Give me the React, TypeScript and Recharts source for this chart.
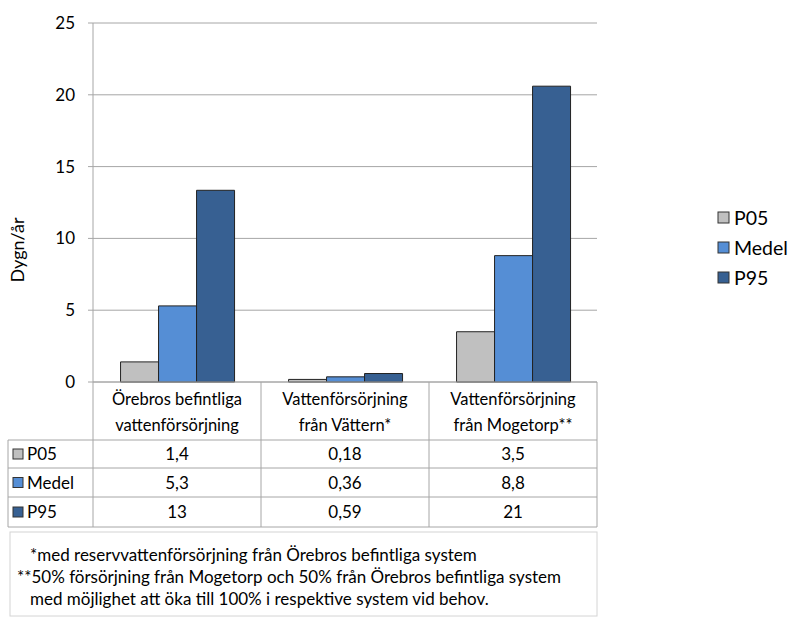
import React from 'react';
import { BarChart, Bar, XAxis, YAxis, CartesianGrid } from 'recharts';

const categories = ['Örebros befintliga vattenförsörjning', 'Vattenförsörjning från Vättern*', 'Vattenförsörjning från Mogetorp**'];
const categoryLines = [
    ['Örebros befintliga', 'vattenförsörjning'],
    ['Vattenförsörjning', 'från Vättern*'],
    ['Vattenförsörjning', 'från Mogetorp**'],
];
const p05 = [1.4, 0.18, 3.5];
const medel = [5.3, 0.36, 8.8];
const p95 = [13.35, 0.59, 20.6];
const p05Labels = ['1,4', '0,18', '3,5'];
const medelLabels = ['5,3', '0,36', '8,8'];
const p95Labels = ['13', '0,59', '21'];
const yTicks = [0, 5, 10, 15, 20, 25];
const notes = [
    '*med reservvattenförsörjning från Örebros befintliga system',
    '**50%  försörjning från Mogetorp och 50% från Örebros befintliga system',
    'med  möjlighet att öka till 100%  i respektive system vid behov.',
];

const series = [
    { key: 'P05', name: 'P05', color: '#c0c0c0', labels: p05Labels },
    { key: 'Medel', name: 'Medel', color: '#558ed5', labels: medelLabels },
    { key: 'P95', name: 'P95', color: '#376092', labels: p95Labels },
];

const data = categories.map((c, i) => ({ name: c, P05: p05[i], Medel: medel[i], P95: p95[i] }));

const FONT = 'Lato, "Open Sans", sans-serif';
const LINE = '#a6a6a6';

// plot area (matches chart margins below)
const PLOT_LEFT = 93;
const PLOT_RIGHT = 597;
const PLOT_BOTTOM = 382;
const COL_W = (PLOT_RIGHT - PLOT_LEFT) / categories.length;

const CategoryTick = (props: any) => {
    const { x, index } = props;
    const lines = categoryLines[index] || [];
    return (
        <g>
            {lines.map((l, i) => (
                <text key={i} x={x} y={PLOT_BOTTOM + 23 + i * 26} textAnchor="middle" fontSize={16.5} fill="#000" fontFamily={FONT}>
                    {l}
                </text>
            ))}
        </g>
    );
};

const Overlay = () => {
    const rows = [440, 468, 497, 527];
    return (
        <svg width={800} height={620} style={{ position: 'absolute', left: 0, top: 0, pointerEvents: 'none' }}>
            <text x={0} y={0} transform="translate(24,250) rotate(-90)" textAnchor="middle" fontSize={18} fontFamily={FONT} fill="#000">
                Dygn/år
            </text>
            {/* legend */}
            {series.map((s, r) => (
                <g key={s.key}>
                    <rect x={718} y={212 + r * 30} width={11} height={11} fill={s.color} stroke="#333" />
                    <text x={734} y={225 + r * 30} fontSize={19.5} fontFamily={FONT} fill="#000">{s.name}</text>
                </g>
            ))}
            {/* data table */}
            <line x1={PLOT_LEFT} x2={PLOT_RIGHT} y1={PLOT_BOTTOM} y2={PLOT_BOTTOM} stroke={LINE} />
            {rows.map((y) => (
                <line key={y} x1={8} x2={PLOT_RIGHT} y1={y} y2={y} stroke={LINE} />
            ))}
            <line x1={8} x2={8} y1={rows[0]} y2={rows[3]} stroke={LINE} />
            {categories.map((_, i) => (
                <line key={i} x1={PLOT_LEFT + i * COL_W} x2={PLOT_LEFT + i * COL_W} y1={PLOT_BOTTOM} y2={rows[3]} stroke={LINE} />
            ))}
            <line x1={PLOT_RIGHT} x2={PLOT_RIGHT} y1={PLOT_BOTTOM} y2={rows[3]} stroke={LINE} />
            {series.map((s, r) => {
                const cy = (rows[r] + rows[r + 1]) / 2;
                return (
                    <g key={s.key}>
                        <rect x={13} y={cy - 5} width={10} height={10} fill={s.color} stroke="#333" />
                        <text x={27} y={cy + 6} fontSize={17} fontFamily={FONT} fill="#000">{s.name}</text>
                        {s.labels.map((v, i) => (
                            <text key={i} x={PLOT_LEFT + COL_W * (i + 0.5)} y={cy + 6} fontSize={17} fontFamily={FONT} textAnchor="middle" fill="#000">
                                {v}
                            </text>
                        ))}
                    </g>
                );
            })}
            {/* notes */}
            <rect x={10} y={532} width={587} height={84} fill="none" stroke="#d4d4d4" />
            <text x={30} y={561} fontSize={17} fontFamily={FONT} fill="#000">{notes[0]}</text>
            <text x={17} y={583} fontSize={17} fontFamily={FONT} fill="#000">{notes[1]}</text>
            <text x={30} y={605} fontSize={17} fontFamily={FONT} fill="#000">{notes[2]}</text>
        </svg>
    );
};

const App: React.FC = () => {
    return (
        <div style={{ position: 'absolute', left: 0, top: 0, width: 800, height: 620, background: '#fff', fontFamily: FONT }}>
            <BarChart
                width={800}
                height={620}
                data={data}
                margin={{ top: 23, right: 203, left: 33, bottom: 180 }}
                barCategoryGap="16.4%"
                barGap={0}
            >
                <CartesianGrid vertical={false} stroke={LINE} />
                <XAxis dataKey="name" height={58} axisLine={false} tickLine={false} tick={<CategoryTick />} interval={0} />
                <YAxis
                    width={60}
                    domain={[0, 25]}
                    ticks={yTicks}
                    interval={0}
                    axisLine={{ stroke: LINE }}
                    tickLine={{ stroke: LINE }}
                    tickSize={5}
                    tickMargin={13}
                    tick={{ fill: '#000', fontSize: 17, fontFamily: FONT }}
                />
                {series.map((s) => (
                    <Bar key={s.key} dataKey={s.key} name={s.name} fill={s.color} stroke="#222" strokeWidth={1} isAnimationActive={false} />
                ))}
            </BarChart>
            <Overlay />
        </div>
    );
};

export default App;
